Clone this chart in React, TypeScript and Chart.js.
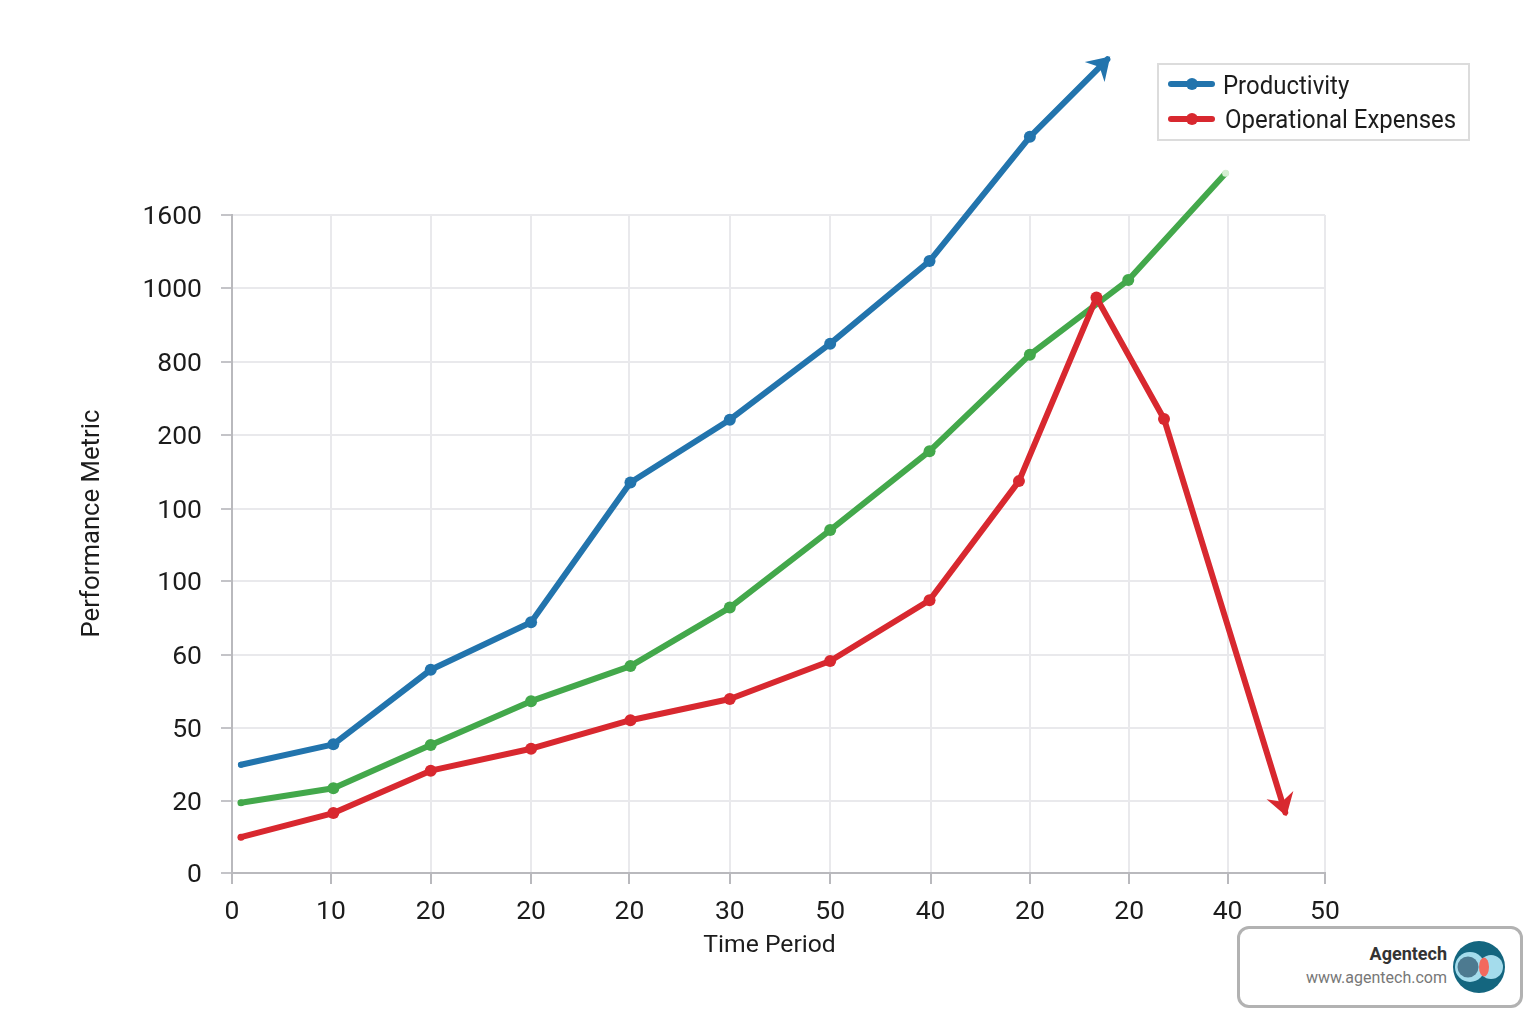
import { useEffect, useRef } from 'react';
import { Chart, registerables } from 'chart.js';

Chart.register(...registerables);

const xTickLabels = ['0', '10', '20', '20', '20', '30', '50', '40', '20', '20', '40', '50'];
const yTickLabels = ['0', '20', '50', '60', '100', '100', '200', '800', '1000', '1600'];

// the tick labels are not monotonic in the picture, so values are in tick slots,
// and the slots themselves are slightly uneven
const xTickSlots = [0, 0.996, 2.0, 3.01, 4.0, 5.01, 6.02, 7.03, 8.03, 9.03, 10.02, 11];
const yTickSlots = [0, 0.985, 1.983, 2.98, 3.994, 4.98, 5.99, 6.99, 8.0, 9];

const productivityX = [0.09, 1.02, 2.0, 3.01, 4.01, 5.01, 6.02, 7.02, 8.03, 8.81];
const productivityY = [1.48, 1.76, 2.78, 3.43, 5.34, 6.2, 7.24, 8.37, 10.07, 11.13];
const middleX = [0.09, 1.02, 2.0, 3.01, 4.01, 5.01, 6.02, 7.02, 8.03, 9.02, 10.0];
const middleY = [0.96, 1.16, 1.75, 2.35, 2.83, 3.63, 4.69, 5.77, 7.09, 8.11, 9.57];
const expensesX = [0.09, 1.02, 2.0, 3.01, 4.01, 5.01, 6.02, 7.02, 7.92, 8.7, 9.38, 10.6];
const expensesY = [0.49, 0.82, 1.4, 1.7, 2.09, 2.38, 2.9, 3.73, 5.36, 7.87, 6.21, 0.83];

const BLUE = '#2274ad';
const GREEN = '#43a84b';
const PALE_GREEN = '#d5efd2';
const RED = '#d8282f';
const FONT = 'Roboto';

const toPoints = (xs: number[], ys: number[]) => xs.map((x, i) => ({ x, y: ys[i] }));

// first point is barely wider than the line, the end of an arrow has no dot
const radii = (count: number, firstRadius: number, lastRadius: number) =>
  Array.from({ length: count }, (_, i) => (i === 0 ? firstRadius : i === count - 1 ? lastRadius : 6));

// the library skips points outside the chart area, these ones still belong in the picture
const pointsAboveArea = {
  id: 'pointsAboveArea',
  afterDatasetsDraw(chart: any) {
    const whole = { left: 0, top: 0, right: chart.width, bottom: chart.height };
    chart.data.datasets.forEach((_: any, i: number) => {
      chart.getDatasetMeta(i).data.forEach((pt: any) => {
        if (pt.y < chart.chartArea.top) pt.draw(chart.ctx, whole);
      });
    });
  },
};

const arrowHeads = {
  id: 'arrowHeads',
  afterDatasetsDraw(chart: any) {
    const { ctx } = chart;
    chart.data.datasets.forEach((ds: any, i: number) => {
      if (!ds.arrow) return;
      const pts = chart.getDatasetMeta(i).data;
      const end = pts[pts.length - 1];
      const prev = pts[pts.length - 2];
      const angle = Math.atan2(end.y - prev.y, end.x - prev.x);
      ctx.save();
      ctx.translate(end.x, end.y);
      ctx.rotate(angle);
      ctx.fillStyle = ds.borderColor;
      ctx.beginPath();
      ctx.moveTo(4, 0);
      ctx.lineTo(-18, -14);
      ctx.lineTo(-11, 0);
      ctx.lineTo(-18, 14);
      ctx.closePath();
      ctx.fill();
      ctx.restore();
    });
  },
};

// axis captions sit off-centre in the picture, so they are placed by scale value
const axisCaptions = {
  id: 'axisCaptions',
  afterDraw(chart: any) {
    const { ctx, scales } = chart;
    ctx.save();
    ctx.fillStyle = '#1c1c1c';
    ctx.textAlign = 'center';
    ctx.textBaseline = 'middle';
    ctx.font = `24.7px ${FONT}`;
    ctx.fillText('Time Period', scales.x.getPixelForValue(5.41), 946);
    ctx.font = `25.7px ${FONT}`;
    ctx.translate(93, scales.y.getPixelForValue(4.78));
    ctx.rotate(-Math.PI / 2);
    ctx.fillText('Performance Metric', 0, 0);
    ctx.restore();
  },
};

function LegendRow({ color, label, top, textLeft, textTop }: { color: string; label: string; top: number; textLeft: number; textTop: number }) {
  return (
    <>
      <div style={{ position: 'absolute', left: 1168, top: top - 3, width: 47, height: 6, borderRadius: 3, background: color }} />
      <div style={{ position: 'absolute', left: 1186, top: top - 6, width: 12, height: 12, borderRadius: 6, background: color }} />
      <div
        style={{
          position: 'absolute',
          left: textLeft,
          top: textTop,
          height: 34,
          lineHeight: '34px',
          fontSize: 26,
          color: '#1c1c1c',
          whiteSpace: 'nowrap',
          transform: 'scaleX(0.922)',
          transformOrigin: 'left center',
        }}
      >
        {label}
      </div>
    </>
  );
}

export default function App() {
  const canvasRef = useRef<HTMLCanvasElement>(null);

  useEffect(() => {
    const canvas = canvasRef.current;
    if (!canvas) return;
    const lineStyle = {
      borderWidth: 6,
      borderCapStyle: 'round' as const,
      borderJoinStyle: 'round' as const,
      tension: 0,
      clip: false as const,
      pointBorderWidth: 0,
    };
    const chart = new Chart(canvas, {
      type: 'line',
      data: {
        datasets: [
          {
            ...lineStyle,
            label: 'Productivity',
            data: toPoints(productivityX, productivityY),
            borderColor: BLUE,
            backgroundColor: BLUE,
            pointRadius: radii(productivityX.length, 3, 0),
            order: 3,
            arrow: true,
          } as any,
          {
            ...lineStyle,
            data: toPoints(middleX, middleY),
            borderColor: GREEN,
            backgroundColor: GREEN,
            pointBackgroundColor: middleX.map((_, i) => (i === middleX.length - 1 ? PALE_GREEN : GREEN)),
            pointRadius: radii(middleX.length, 3.5, 3.5),
            order: 2,
          },
          {
            ...lineStyle,
            label: 'Operational Expenses',
            data: toPoints(expensesX, expensesY),
            borderColor: RED,
            backgroundColor: RED,
            pointRadius: radii(expensesX.length, 3.5, 0),
            order: 1,
            arrow: true,
          } as any,
        ],
      },
      options: {
        responsive: false,
        animation: false,
        layout: { padding: { left: 0, top: 215, right: 211, bottom: 0 } },
        plugins: { legend: { display: false }, tooltip: { enabled: false } },
        scales: {
          x: {
            type: 'linear',
            min: 0,
            max: 11,
            afterBuildTicks: (s: any) => {
              s.ticks = xTickSlots.map((value) => ({ value }));
            },
            afterFit: (s: any) => {
              s.height = 151;
              s.paddingLeft = 0;
              s.paddingRight = 0;
            },
            grid: { color: '#e9e9ec', lineWidth: 2, tickColor: '#b9b9bd', tickLength: 11 },
            border: { color: '#b9b9bd', width: 2 },
            ticks: {
              autoSkip: false,
              maxRotation: 0,
              padding: 12,
              color: '#1c1c1c',
              font: { family: FONT, size: 26.5 },
              callback: (_v, i) => xTickLabels[i],
            },
          },
          y: {
            type: 'linear',
            min: 0,
            max: 9,
            afterBuildTicks: (s: any) => {
              s.ticks = yTickSlots.map((value) => ({ value }));
            },
            afterFit: (s: any) => {
              s.width = 232;
              s.paddingTop = 0;
              s.paddingBottom = 0;
            },
            grid: { color: '#e9e9ec', lineWidth: 2, tickColor: '#c4c4c8', tickLength: 11 },
            border: { color: '#b9b9bd', width: 2 },
            ticks: {
              autoSkip: false,
              padding: 19,
              labelOffset: 2,
              color: '#1c1c1c',
              font: { family: FONT, size: 26.5 },
              callback: (_v, i) => yTickLabels[i],
            },
          },
        },
      },
      plugins: [pointsAboveArea, arrowHeads, axisCaptions],
    });
    return () => {
      chart.destroy();
    };
  }, []);

  return (
    <div style={{ position: 'absolute', left: 0, top: 0, width: 1536, height: 1024, overflow: 'hidden', background: '#fff', fontFamily: FONT }}>
      <canvas ref={canvasRef} width={1536} height={1024} style={{ display: 'block' }} />

      <div style={{ position: 'absolute', left: 1157, top: 63, width: 309, height: 74, border: '2px solid #dcdcdc' }} />
      <LegendRow color={BLUE} label="Productivity" top={84} textLeft={1223} textTop={68} />
      <LegendRow color={RED} label="Operational Expenses" top={119} textLeft={1225} textTop={102} />

      <div style={{ position: 'absolute', left: 1237, top: 926, width: 280, height: 76, border: '3px solid #b2b2b2', borderRadius: 12, background: '#fff' }} />
      <div style={{ position: 'absolute', right: 89, top: 943, fontSize: 18, fontWeight: 700, color: '#333', lineHeight: '22px' }}>Agentech</div>
      <div style={{ position: 'absolute', right: 89, top: 968, fontSize: 16, color: '#777', lineHeight: '20px' }}>www.agentech.com</div>
      <svg style={{ position: 'absolute', left: 1453, top: 941 }} width={52} height={52} viewBox="0 0 52 52">
        <circle cx={26} cy={26} r={26} fill="#14667f" />
        <circle cx={17} cy={26} r={15} fill="#a4dcec" />
        <circle cx={38} cy={26} r={12} fill="#a4dcec" />
        <circle cx={15} cy={26} r={10.5} fill="#4d7a90" />
        <ellipse cx={31} cy={26} rx={5} ry={9.5} fill="#f2695e" />
      </svg>
    </div>
  );
}
